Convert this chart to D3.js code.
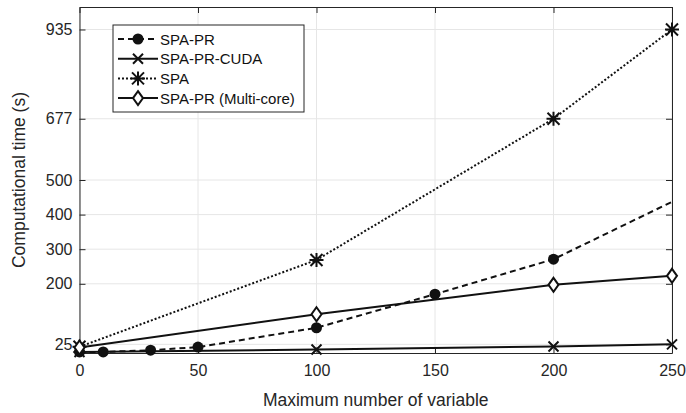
<!DOCTYPE html>
<html>
<head>
<meta charset="utf-8">
<script src="https://cdn.jsdelivr.net/npm/d3@7"></script>
<style>
  body { margin: 0; background: #fff; }
  text { font-family: "Liberation Sans", Arial, sans-serif; }
</style>
</head>
<body>
<div id="chart"></div>
<script>
// data
var xTicks = [0, 50, 100, 150, 200, 250];
var yTicks = [25, 200, 300, 400, 500, 677, 935];

var spaPrX = [0, 10, 30, 50, 100, 150, 200, 250];
var spaPrY = [3, 3, 8, 17, 73, 170, 271, 437];
var cudaX = [0, 100, 200, 250];
var cudaY = [3, 10, 19, 25];
var spaX = [0, 100, 200, 250];
var spaY = [18, 269, 677, 935];
var multiX = [0, 100, 200, 250];
var multiY = [16, 112, 197, 223];

var width = 686, height = 413;
var margin = {top: 7, right: 14, bottom: 60, left: 79.5};

var svg = d3.select("#chart").append("svg").attr("width", width).attr("height", height);

var x = d3.scaleLinear().domain([0, 250]).range([margin.left, width - margin.right]);
var y = d3.scaleLinear().domain([0, 1000]).range([height - margin.bottom, margin.top]);

// grid
svg.append("g").selectAll("line").data(xTicks).enter().append("line")
  .attr("x1", d => x(d)).attr("x2", d => x(d))
  .attr("y1", y(0)).attr("y2", y(1000))
  .attr("stroke", "#e6e6e6").attr("stroke-width", 1);
svg.append("g").selectAll("line").data(yTicks).enter().append("line")
  .attr("x1", x(0)).attr("x2", x(250))
  .attr("y1", d => y(d)).attr("y2", d => y(d))
  .attr("stroke", "#e6e6e6").attr("stroke-width", 1);

// axes, ticks point inward
var xAxis = d3.axisBottom(x).tickValues(xTicks).tickSizeInner(-6).tickSizeOuter(0).tickPadding(12);
var yAxis = d3.axisLeft(y).tickValues(yTicks).tickSizeInner(-6).tickSizeOuter(0).tickPadding(7);
var gx = svg.append("g").attr("transform", "translate(0," + y(0) + ")").call(xAxis);
var gy = svg.append("g").attr("transform", "translate(" + x(0) + ",0)").call(yAxis);
svg.append("g").attr("transform", "translate(0," + y(1000) + ")")
  .call(d3.axisTop(x).tickValues(xTicks).tickSizeInner(-6).tickSizeOuter(0).tickFormat(""));
svg.append("g").attr("transform", "translate(" + x(250) + ",0)")
  .call(d3.axisRight(y).tickValues(yTicks).tickSizeInner(-6).tickSizeOuter(0).tickFormat(""));
svg.selectAll(".domain").attr("stroke", "#262626");
svg.selectAll(".tick line").attr("stroke", "#262626");
gx.selectAll("text").style("font-size", "16px").attr("fill", "#262626");
gy.selectAll("text").style("font-size", "16px").attr("fill", "#262626");

// axis labels
svg.append("text").text("Maximum number of variable")
  .attr("x", (x(0) + x(250)) / 2).attr("y", 406)
  .attr("text-anchor", "middle").style("font-size", "17.5px").attr("fill", "#262626");
svg.append("text").text("Computational time (s)")
  .attr("transform", "translate(25," + ((y(0) + y(1000)) / 2) + ") rotate(-90)")
  .attr("text-anchor", "middle").style("font-size", "17.5px").attr("fill", "#262626");

var line = d3.line().x(d => x(d[0])).y(d => y(d[1]));
function pts(xs, ys) { return xs.map((v, i) => [v, ys[i]]); }

var series = [
  {name: "SPA-PR", data: pts(spaPrX, spaPrY), dash: "6,4", width: 2, marker: "circle", skipLast: true},
  {name: "SPA-PR-CUDA", data: pts(cudaX, cudaY), dash: null, width: 2, marker: "cross"},
  {name: "SPA", data: pts(spaX, spaY), dash: "2,2", width: 2, marker: "star"},
  {name: "SPA-PR (Multi-core)", data: pts(multiX, multiY), dash: null, width: 2, marker: "diamond"}
];

function drawMarker(g, type, cx, cy) {
  if (type === "circle") {
    g.append("circle").attr("cx", cx).attr("cy", cy).attr("r", 5.5).attr("fill", "#111");
  } else if (type === "cross") {
    g.append("path").attr("d", "M" + (cx - 5) + "," + (cy - 5) + "L" + (cx + 5) + "," + (cy + 5) +
      "M" + (cx - 5) + "," + (cy + 5) + "L" + (cx + 5) + "," + (cy - 5))
      .attr("stroke", "#111").attr("stroke-width", 2);
  } else if (type === "star") {
    g.append("path").attr("d", "M" + (cx - 6) + "," + (cy - 6) + "L" + (cx + 6) + "," + (cy + 6) +
      "M" + (cx - 6) + "," + (cy + 6) + "L" + (cx + 6) + "," + (cy - 6) +
      "M" + cx + "," + (cy - 7) + "L" + cx + "," + (cy + 7) +
      "M" + (cx - 7) + "," + cy + "L" + (cx + 7) + "," + cy)
      .attr("stroke", "#111").attr("stroke-width", 2);
  } else if (type === "diamond") {
    g.append("path").attr("d", "M" + cx + "," + (cy - 7) + "L" + (cx + 5) + "," + cy +
      "L" + cx + "," + (cy + 7) + "L" + (cx - 5) + "," + cy + "Z")
      .attr("fill", "#fff").attr("stroke", "#111").attr("stroke-width", 2);
  }
}

var plot = svg.append("g");
series.forEach(function (s) {
  plot.append("path").datum(s.data).attr("d", line)
    .attr("fill", "none").attr("stroke", "#111").attr("stroke-width", s.width)
    .attr("stroke-dasharray", s.dash);
});
series.forEach(function (s) {
  var mk = plot.append("g");
  s.data.forEach(function (d, i) {
    if (s.skipLast && i === s.data.length - 1) return;
    drawMarker(mk, s.marker, x(d[0]), y(d[1]));
  });
});

// legend
var lg = svg.append("g");
lg.append("rect").attr("x", 113).attr("y", 25).attr("width", 191).attr("height", 87)
  .attr("fill", "#fff").attr("stroke", "#262626").attr("stroke-width", 1);
series.forEach(function (s, i) {
  var ly = 39 + i * 19.7;
  lg.append("line").attr("x1", 118).attr("x2", 158).attr("y1", ly).attr("y2", ly)
    .attr("stroke", "#111").attr("stroke-width", 2).attr("stroke-dasharray", s.dash);
  drawMarker(lg, s.marker, 138, ly);
  lg.append("text").text(s.name).attr("x", 160).attr("y", ly + 5.5)
    .style("font-size", "15px").attr("fill", "#111");
});
</script>
</body>
</html>
